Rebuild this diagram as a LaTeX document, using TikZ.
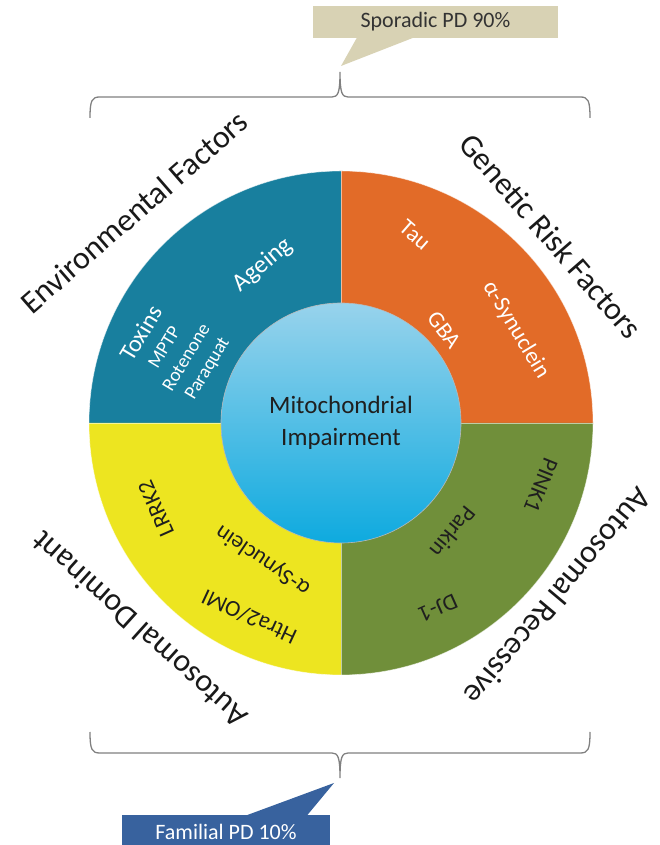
\documentclass[tikz,border=0pt]{standalone}
\usepackage{fontspec}
\setmainfont{Carlito}
\usetikzlibrary{calc}
\definecolor{envblue}{RGB}{24,127,158}
\definecolor{genorange}{RGB}{226,107,40}
\definecolor{domyellow}{RGB}{237,229,32}
\definecolor{recgreen}{RGB}{112,143,58}
\definecolor{coretop}{RGB}{152,211,236}
\definecolor{corebot}{RGB}{14,170,223}
\definecolor{sporfill}{RGB}{216,210,180}
\definecolor{famfill}{RGB}{56,98,158}
\definecolor{bracegray}{RGB}{128,128,128}
\begin{document}
\begin{tikzpicture}[x=1pt,y=1pt,
  outerlbl/.style={font=\fontsize{32}{34}\selectfont, text=black!90, inner sep=0pt},
  whitelbl/.style={font=\fontsize{23}{25}\selectfont, text=white, inner sep=0pt},
  smalllbl/.style={font=\fontsize{19}{21}\selectfont, text=white, inner sep=0pt},
  darklbl/.style={font=\fontsize{23}{25}\selectfont, text=black!88, inner sep=0pt},
  bracepath/.style={draw=bracegray, line width=1.3pt},
  seam/.style={draw=white, draw opacity=0.55, line width=0.7pt},
]
\useasboundingbox (0,0) rectangle (659,845);

% ring of four quadrants
\coordinate (C) at (341,422);
\def\Rout{252}
\fill[envblue]   (C) -- ++(90:\Rout)  arc[start angle=90,  end angle=180, radius=\Rout] -- cycle;
\fill[genorange] (C) -- ++(0:\Rout)   arc[start angle=0,   end angle=90,  radius=\Rout] -- cycle;
\fill[domyellow] (C) -- ++(180:\Rout) arc[start angle=180, end angle=270, radius=\Rout] -- cycle;
\fill[recgreen]  (C) -- ++(270:\Rout) arc[start angle=270, end angle=360, radius=\Rout] -- cycle;
\draw[seam] (C) -- ++(0:\Rout) (C) -- ++(90:\Rout) (C) -- ++(180:\Rout) (C) -- ++(270:\Rout);
\draw[seam] (C) circle[radius=\Rout];

% central disc
\node[circle, minimum size=240pt, inner sep=0pt, top color=coretop, bottom color=corebot,
      draw=gray!55, line width=0.6pt, align=center, text=black!88,
      font=\fontsize{25}{32}\selectfont] (core) at (C) {Mitochondrial\\Impairment};

% labels inside the quadrants
\node[whitelbl, font=\fontsize{25}{27}\selectfont, rotate=40] (ageing) at (263,580) {Ageing};
\node[whitelbl, font=\fontsize{24}{26}\selectfont, rotate=59] (toxins) at (141,512) {Toxins};
\node[smalllbl, rotate=59] (mptp) at (164,498) {MPTP};
\node[smalllbl, rotate=59] (rotenone) at (186,488) {Rotenone};
\node[smalllbl, rotate=59] (paraquat) at (208,476) {Paraquat};

\node[whitelbl, rotate=-41] (tau) at (415,610) {Tau};
\node[whitelbl, rotate=-53] (gba) at (444,515) {GBA};
\node[whitelbl, rotate=-59] (asynrisk) at (516,515) {α-Synuclein};

\node[darklbl, rotate=114] (lrrk) at (156,336) {LRRK2};
\node[darklbl, rotate=146] (asyndom) at (263,285) {α-Synuclein};
\node[darklbl, rotate=155] (htra) at (249,228) {Htra2/OMI};

\node[darklbl, rotate=-112] (pink) at (541,360) {PINK1};
\node[darklbl, rotate=-129] (parkin) at (453,313) {Parkin};
\node[darklbl, rotate=-156] (dj) at (438,237) {DJ-1};

% category labels around the ring
\node[outerlbl, rotate=41] (envlbl) at (134,633) {Environmental Factors};
\node[outerlbl, rotate=-49] (genlbl) at (551,609) {Genetic Risk Factors};
\node[outerlbl, rotate=138] (domlbl) at (139,215) {Autosomal Dominant};
\node[outerlbl, rotate=-130] (reclbl) at (558,248) {Autosomal Recessive};

% upper brace
\coordinate (tbL) at (90,727);
\coordinate (tbTip) at (340,773);
\coordinate (tbR) at (590,727);
\draw[bracepath] (tbL) .. controls (90,745) and (92,748) .. (100,748) -- (332,748)
  .. controls (338,748) and (340,752) .. (tbTip)
  .. controls (340,752) and (342,748) .. (348,748) -- (580,748)
  .. controls (588,748) and (590,745) .. (tbR);

% lower brace
\coordinate (bbL) at (90,113);
\coordinate (bbTip) at (340,67);
\coordinate (bbR) at (590,113);
\draw[bracepath] (bbL) .. controls (90,95) and (92,92) .. (100,92) -- (332,92)
  .. controls (338,92) and (340,88) .. (bbTip)
  .. controls (340,88) and (342,92) .. (348,92) -- (580,92)
  .. controls (588,92) and (590,95) .. (bbR);

% sporadic callout
\node[fill=sporfill, minimum width=245pt, minimum height=32pt, inner sep=0pt,
      font=\fontsize{22}{24}\selectfont, text=black!80] (spor) at (435.5,823) {Sporadic PD 90\%};
\coordinate (sporL) at (357,807.5);
\coordinate (sporR) at (414,807.5);
\coordinate (sporTip) at (341,779);
\fill[sporfill] (sporL) -- (sporTip) -- (sporR) -- cycle;

% familial callout
\node[fill=famfill, minimum width=208pt, minimum height=34pt, inner sep=0pt,
      font=\fontsize{22}{24}\selectfont, text=white] (fam) at (226,13) {Familial PD 10\%};
\coordinate (famL) at (246,29.5);
\coordinate (famR) at (307,29.5);
\coordinate (famTip) at (334,62);
\fill[famfill] (famL) -- (famTip) -- (famR) -- cycle;
\end{tikzpicture}
\end{document}
